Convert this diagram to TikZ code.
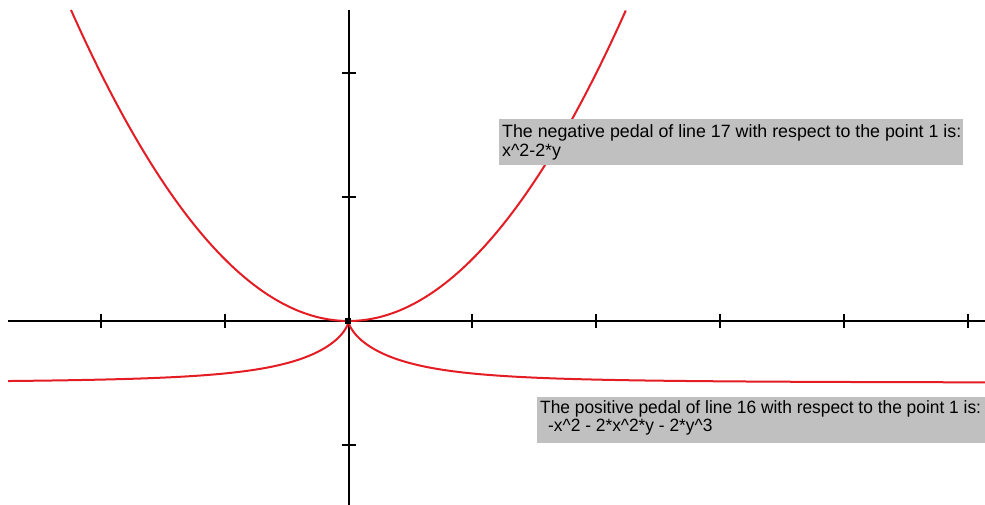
\documentclass[tikz,border=0pt]{standalone}
\usepackage{fontspec}
\setmainfont{Liberation Sans}
\definecolor{boxgray}{RGB}{192,192,192}
\definecolor{curvered}{RGB}{228,28,36}
\begin{document}
\begin{tikzpicture}[x=1pt,y=1pt,
  axisline/.style={line width=2pt,black},
  tickmark/.style={line width=2pt,black},
  curveline/.style={line width=2pt,curvered,line join=round},
  infobox/.style={fill=boxgray,draw=none,inner sep=0pt},
  infotext/.style={anchor=base west,inner sep=0pt,font=\fontsize{17.8}{20}\selectfont}]
\useasboundingbox (0,0) rectangle (985,505);
\fill[white] (0,0) rectangle (985,505);
\coordinate (O) at (348.5,184);
\coordinate (xl) at (8,184);
\coordinate (xr) at (985,184);
\coordinate (yt) at (348.5,495);
\coordinate (yb) at (348.5,0);
% axes
\draw[axisline] (xl) -- (xr);
\draw[axisline] (yb) -- (yt);
\foreach \i in {-2,-1,1,2,3,4,5}
  \draw[tickmark,shift={(O)}] (\i*123.8,-7) -- (\i*123.8,7);
\foreach \j in {-1,1,2}
  \draw[tickmark,shift={(O)}] (-7,\j*123.8) -- (7,\j*123.8);
% curves
\begin{scope}
  \clip (8,0) rectangle (985,495);
  \begin{scope}[shift={(O)},x=123.8pt,y=123.8pt]
    \draw[curveline] plot[domain=-2.2415:2.2415,samples=160,smooth] (\x,{\x*\x/2});
    \draw[curveline] plot[domain=0:4.8,samples=220,smooth,variable=\t]
      ({sqrt((1-exp(-\t))^3)*exp(\t/2)/2},{(exp(-\t)-1)/2});
    \draw[curveline] plot[domain=0:4.8,samples=220,smooth,variable=\t]
      ({-sqrt((1-exp(-\t))^3)*exp(\t/2)/2},{(exp(-\t)-1)/2});
  \end{scope}
\end{scope}
\node[fill=black,minimum size=6pt,inner sep=0pt] (sq) at (347.5,184) {};
% info boxes (drawn over the curves)
\node[infobox,minimum width=464pt,minimum height=46pt,anchor=south west] (box1) at (499,340) {};
\node[infobox,minimum width=448pt,minimum height=46pt,anchor=south west] (box2) at (537,62) {};
% texts
\node[infotext] (t1a) at (502,367) {The negative pedal of line 17 with respect to the point 1 is:};
\node[infotext] (t1b) at (502,348) {x\textasciicircum 2-2*y};
\node[infotext] (t2a) at (540,91) {\scalebox{0.975}[1]{The positive pedal of line 16 with respect to the point 1 is:}};
\node[infotext] (t2b) at (548,73) {\scalebox{0.975}[1]{-x\textasciicircum 2 - 2*x\textasciicircum 2*y - 2*y\textasciicircum 3}};
\end{tikzpicture}
\end{document}
